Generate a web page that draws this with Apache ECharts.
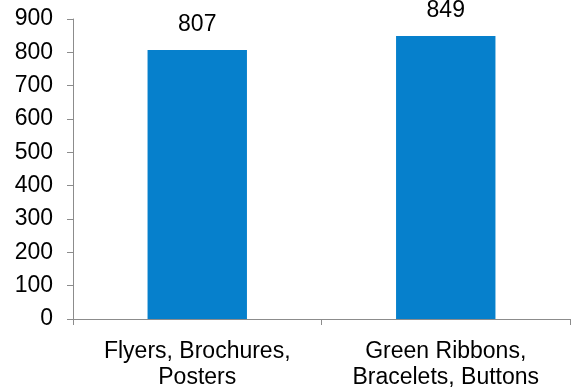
<!DOCTYPE html>
<html>
<head>
<meta charset="utf-8">
<script src="https://cdn.jsdelivr.net/npm/echarts@6/dist/echarts.min.js"></script>
<style>html,body{margin:0;padding:0;background:#fff}#c{width:575px;height:391px}</style>
</head>
<body>
<div id="c"></div>
<script>
var categories = ['Flyers, Brochures,\nPosters', 'Green Ribbons,\nBracelets, Buttons'];
var values = [807, 849];
var yTicks = [0, 100, 200, 300, 400, 500, 600, 700, 800, 900];

var chart = echarts.init(document.getElementById('c'), null, {renderer: 'canvas'});
var font = 'Liberation Sans, Arial, sans-serif';
chart.setOption({
  animation: false,
  grid: {left: 73, right: 5, top: 19, bottom: 71.5, containLabel: false},
  xAxis: {
    type: 'category',
    data: categories,
    axisLine: {show: true, lineStyle: {color: '#8c8c8c', width: 1}},
    axisTick: {show: true, alignWithLabel: false, length: 6, lineStyle: {color: '#8c8c8c'}},
    axisLabel: {color: '#000', fontSize: 23, fontFamily: font, margin: 20, lineHeight: 26, interval: 0}
  },
  yAxis: {
    type: 'value',
    min: yTicks[0],
    max: yTicks[yTicks.length - 1],
    interval: 100,
    splitLine: {show: false},
    axisLine: {show: true, lineStyle: {color: '#8c8c8c', width: 1}},
    axisTick: {show: true, length: 6, lineStyle: {color: '#8c8c8c'}},
    axisLabel: {color: '#000', fontSize: 23, fontFamily: font, margin: 20}
  },
  series: [{
    type: 'bar',
    data: values,
    barWidth: '40%',
    itemStyle: {color: '#0680cc'},
    label: {show: true, position: 'top', distance: 14, color: '#000', fontSize: 23, fontFamily: font}
  }]
});
</script>
</body>
</html>
